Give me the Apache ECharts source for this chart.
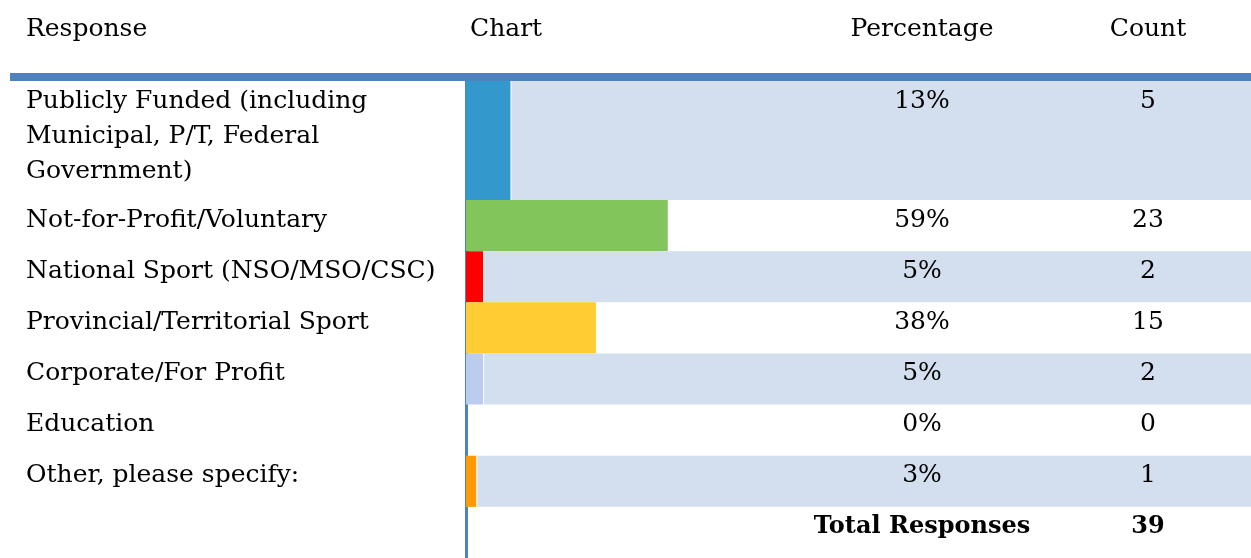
<!DOCTYPE html>
<html><head><meta charset="utf-8">
<script src="https://cdn.jsdelivr.net/npm/echarts@6/dist/echarts.min.js"></script>
<style>html,body{margin:0;padding:0;background:#fff}#c{width:1251px;height:558px}</style>
</head><body><div id="c"></div>
<script>
const headers = ['Response', 'Chart', 'Percentage', 'Count'];
const responses = [
  'Publicly Funded (including Municipal, P/T, Federal Government)',
  'Not-for-Profit/Voluntary',
  'National Sport (NSO/MSO/CSC)',
  'Provincial/Territorial Sport',
  'Corporate/For Profit',
  'Education',
  'Other, please specify:'
];
const percentages = [13, 59, 5, 38, 5, 0, 3];
const counts = [5, 23, 2, 15, 2, 0, 1];
const barColors = ['#3399CC', '#82C55B', '#FF0000', '#FFCC33', '#BBCCEE', '#A6A6A6', '#FF9900'];
const totalLabel = 'Total Responses';
const totalCount = 39;

const FONT = '"DejaVu Serif", serif';
const FS = 25;
const BAND = '#D3DFEE';
const RULE = '#4F81BD';
const PCT_X = 922, CNT_X = 1148, LABEL_X = 26;

function txt(x, y, s, bold) {
  return { type: 'text', style: { x: x, y: y, text: s, align: 'center', verticalAlign: 'middle',
    fontFamily: FONT, fontSize: bold ? FS - 1 : FS, fontWeight: bold ? 'bold' : 'normal', fill: '#000' } };
}

function renderRow(params, api) {
  const row = api.value(1);
  const gi = api.value(3);
  const isTotal = api.value(4);
  const c0 = api.coord([0, row]);
  const h = api.size([0, 1])[1];
  const top = c0[1] - h / 2;
  const ty = top + 20;
  const children = [];
  if (isTotal) {
    children.push(txt(PCT_X, ty, totalLabel, true));
    children.push(txt(CNT_X, ty, String(api.value(2)), true));
  } else {
    const pct = api.value(0);
    const c1 = api.coord([pct, row]);
    if (gi % 2 === 0) {
      const bx = pct > 0 ? c1[0] + 1 : c0[0];
      children.push({ type: 'rect', shape: { x: bx, y: top, width: api.getWidth() - bx, height: h }, style: { fill: BAND } });
    }
    if (pct > 0) {
      children.push({ type: 'rect', shape: { x: c0[0], y: top, width: c1[0] - c0[0], height: h }, style: { fill: barColors[gi] } });
    }
    children.push({ type: 'text', style: { x: LABEL_X, y: top + 2.5, text: responses[gi], align: 'left', verticalAlign: 'top',
      width: 430, overflow: 'break', lineHeight: 35, fontFamily: FONT, fontSize: FS, fill: '#000' } });
    children.push(txt(PCT_X, ty, pct + '%', false));
    children.push(txt(CNT_X, ty, String(api.value(2)), false));
  }
  return { type: 'group', children: children };
}

const dataA = [[percentages[0], 0, counts[0], 0, 0]];
const dataB = [];
for (let i = 1; i < responses.length; i++) dataB.push([percentages[i], i - 1, counts[i], i, 0]);
dataB.push([0, responses.length - 1, totalCount, responses.length, 1]);

const yAxisCommon = {
  type: 'category', inverse: true, offset: 1.5,
  axisLine: { show: true, lineStyle: { color: RULE, width: 3 } },
  axisTick: { show: false }, splitLine: { show: false },
  axisLabel: { show: false }
};

const chart = echarts.init(document.getElementById('c'), null, { renderer: 'canvas' });
chart.setOption({
  animation: false,
  backgroundColor: '#fff',
  grid: [
    { left: 466, top: 81, width: 342, height: 119 },
    { left: 466, top: 200, width: 342, height: 364 }
  ],
  xAxis: [
    { gridIndex: 0, type: 'value', min: 0, max: 100, show: false },
    { gridIndex: 1, type: 'value', min: 0, max: 100, show: false }
  ],
  yAxis: [
    Object.assign({ gridIndex: 0, data: [responses[0]] }, yAxisCommon),
    Object.assign({ gridIndex: 1, data: responses.slice(1).concat(['']) }, yAxisCommon)
  ],
  series: [
    { type: 'custom', xAxisIndex: 0, yAxisIndex: 0, clip: false, z: 1, renderItem: renderRow, encode: { x: 0, y: 1 }, data: dataA },
    { type: 'custom', xAxisIndex: 1, yAxisIndex: 1, clip: false, z: 1, renderItem: renderRow, encode: { x: 0, y: 1 }, data: dataB }
  ],
  graphic: [
    { type: 'rect', shape: { x: 10, y: 73, width: 1241, height: 8 }, style: { fill: RULE }, z: 10 },
    { type: 'text', style: { x: 26, y: 29.5, text: headers[0], align: 'left', verticalAlign: 'middle', fontFamily: FONT, fontSize: FS, fill: '#000' } },
    { type: 'text', style: { x: 470, y: 29.5, text: headers[1], align: 'left', verticalAlign: 'middle', fontFamily: FONT, fontSize: FS, fill: '#000' } },
    { type: 'text', style: { x: PCT_X, y: 29.5, text: headers[2], align: 'center', verticalAlign: 'middle', fontFamily: FONT, fontSize: FS, fill: '#000' } },
    { type: 'text', style: { x: CNT_X, y: 29.5, text: headers[3], align: 'center', verticalAlign: 'middle', fontFamily: FONT, fontSize: FS, fill: '#000' } }
  ]
});
</script></body></html>
